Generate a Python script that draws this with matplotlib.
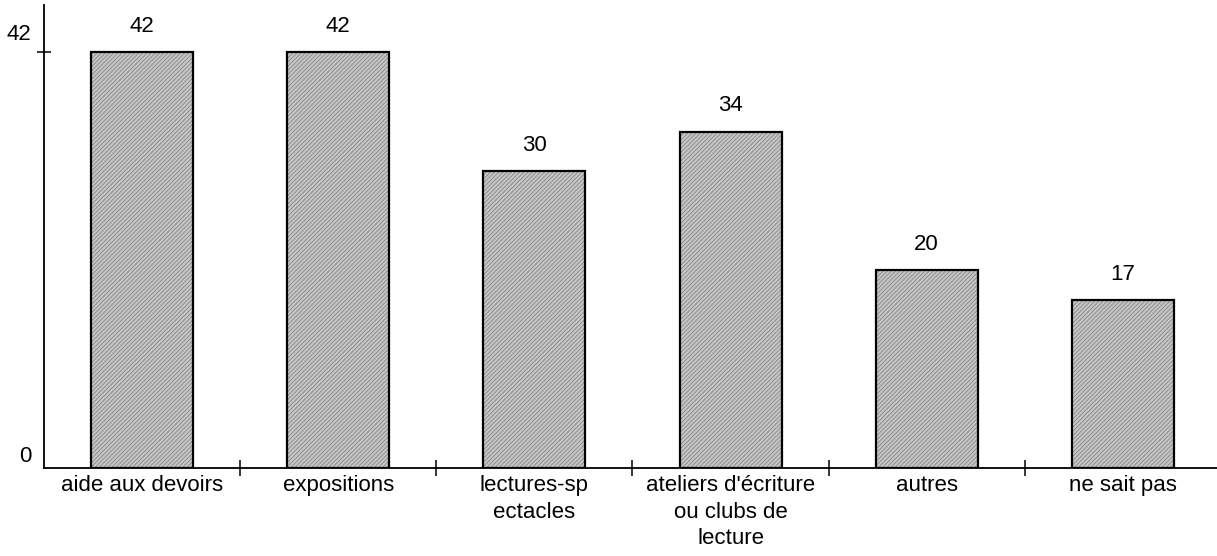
import matplotlib as mpl
mpl.use("Agg")
import matplotlib.pyplot as plt
import matplotlib.transforms as mtransforms
import numpy as np

mpl.rcParams.update({
    "font.family": ["Liberation Sans", "DejaVu Sans"],
    "font.size": 16,
    "hatch.linewidth": 0.7,
})

categories = ["aide aux devoirs", "expositions", "lectures-sp\nectacles",
              "ateliers d'écriture\nou clubs de\nlecture", "autres", "ne sait pas"]
values = [42, 42, 30, 34, 20, 17]
yticks = [0, 42]

fig = plt.figure(figsize=(12.17, 5.56), dpi=100)
ax = fig.add_axes([44 / 1217, 88 / 556, (1217 - 44) / 1217, 463 / 556])

x = np.arange(len(categories))
w = 0.52
# hatched grey fill, then black outline on top
ax.bar(x, values, w, color="#c8c8c8", edgecolor="#8c8c8c", hatch="////////", lw=0, zorder=2)
ax.bar(x, values, w, color="none", edgecolor="black", lw=1.6, zorder=3)

for xi, v in zip(x, values):
    ax.annotate(str(v), (xi, v), xytext=(0, 11), textcoords="offset points",
                ha="center", va="bottom")

ax.set_xlim(-0.5, 5.48)
ax.set_ylim(0, 46.8)
ax.spines[["top", "right"]].set_visible(False)
ax.spines[["left", "bottom"]].set_linewidth(1.3)

ax.set_xticks(x)
ax.set_xticklabels(categories, linespacing=1.35, va="top")
ax.tick_params(axis="x", which="major", length=0, pad=5)
ax.set_xticks(x[:-1] + 0.5, minor=True)
ax.tick_params(axis="x", which="minor", direction="inout", length=12, width=1.1)

ax.set_yticks(yticks)
ax.set_yticklabels([str(t) for t in yticks])
ax.tick_params(axis="y", direction="inout", length=10, width=1.1, pad=4)
for lab, dy in zip(ax.get_yticklabels(), [14, 20]):
    lab.set_transform(lab.get_transform() +
                      mtransforms.ScaledTranslation(0, dy / 100, fig.dpi_scale_trans))
ax.yaxis.get_major_ticks()[0].tick1line.set_visible(False)

fig.savefig("out.png", dpi=100)
